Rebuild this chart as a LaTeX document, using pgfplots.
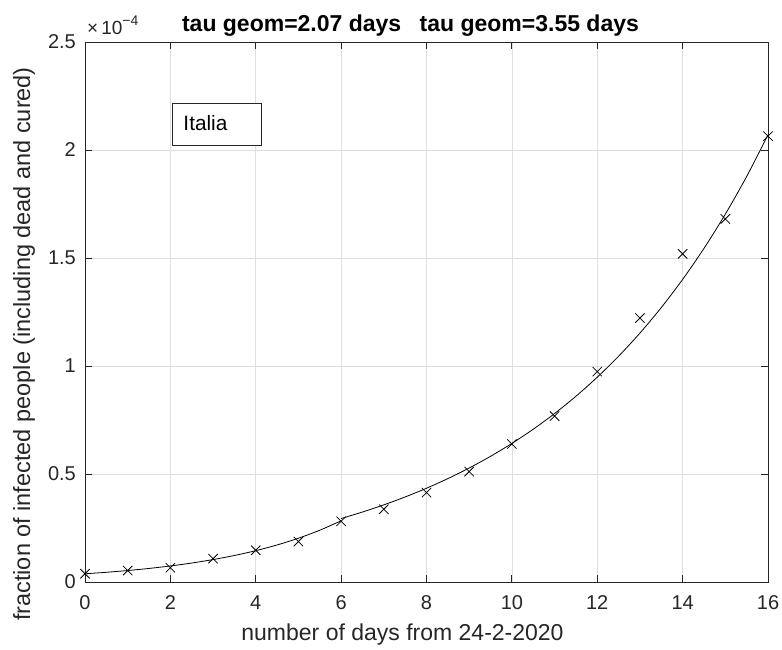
\documentclass[border=0pt]{standalone}
\usepackage{pgfplots}
\pgfplotsset{compat=1.18}
\usepackage{fontspec}
\setmainfont{Liberation Sans}
\definecolor{axgray}{RGB}{38,38,38}
\definecolor{gridgray}{RGB}{223,223,223}
\begin{document}
\begin{tikzpicture}
\useasboundingbox (-85pt,-68pt) rectangle (697pt,582pt);
\begin{axis}[
  scale only axis, width=683pt, height=540pt,
  xmin=0, xmax=16, ymin=0, ymax=2.5,
  xtick={0,2,4,6,8,10,12,14,16},
  ytick={0,0.5,1,1.5,2,2.5},
  yticklabels={0,0.5,1,1.5,2,2.5},
  tick align=inside, xtick pos=both, ytick pos=both,
  major tick length=7pt,
  grid=major, major grid style={gridgray, line width=0.6pt},
  axis line style={axgray, line width=0.8pt},
  tick style={axgray, line width=0.8pt},
  /pgf/number format/assume math mode=true,
  ticklabel style={font=\fontsize{20}{24}\selectfont, text=axgray},
  yticklabel style={anchor=east, xshift=-5.6pt},
  xticklabel style={anchor=north, yshift=-10pt},
  xlabel={number of days from 24-2-2020},
  ylabel={fraction of infected people (including dead and cured)},
  xlabel style={font=\fontsize{23}{27}\selectfont, text=axgray, at={(axis description cs:0.5,0)}, anchor=base, yshift=-58.7pt, xshift=-24pt},
  ylabel style={font=\fontsize{23.5}{27}\selectfont, text=axgray, at={(axis description cs:-0.0805,0.4407)}, anchor=base, rotate=0},
  title={tau geom=2.07 days\hspace{0.8em}tau geom=3.55 days},
  title style={font=\bfseries\fontsize{23}{27}\selectfont, at={(axis description cs:0.5,1)}, anchor=base, yshift=4.3pt, xshift=-16pt},
  clip=false,
]
% data (fraction of infected, in units of 1e-4)
\addplot[only marks, mark=x, mark size=6.6pt, black, line width=0.8pt] coordinates {
(0,0.038) (1,0.053) (2,0.066) (3,0.108) (4,0.147) (5,0.187) (6,0.281)
(7,0.337) (8,0.414) (9,0.511) (10,0.639) (11,0.768) (12,0.974)
(13,1.222) (14,1.519) (15,1.681) (16,2.064)
};
% fit 1: days 0-6
\addplot[black, line width=0.8pt, smooth] coordinates {
(0,0.0380) (0.5,0.0449) (1,0.0531) (1.5,0.0628) (2,0.0742) (2.5,0.0878)
(3,0.1038) (3.5,0.1227) (4,0.1450) (4.5,0.1715) (5,0.2027) (5.5,0.2397) (6,0.2834)
};
% fit 2: days 6-16
\addplot[black, line width=0.8pt, smooth] coordinates {
(6,0.2937) (6.5,0.3240) (7,0.3571) (7.5,0.3937) (8,0.4341) (8.5,0.4786)
(9,0.5277) (9.5,0.5819) (10,0.6415) (10.5,0.7073) (11,0.7798) (11.5,0.8599)
(12,0.9481) (12.5,1.0452) (13,1.1524) (13.5,1.2706) (14,1.4008) (14.5,1.5444)
(15,1.7028) (15.5,1.8775) (16,2.0700)
};
\draw[axgray, line width=0.9pt, fill=white] (rel axis cs:0.1274,0.887) rectangle (rel axis cs:0.2577,0.8087);
\node[anchor=base west, inner sep=0pt, font=\fontsize{20.8}{24}\selectfont] at (rel axis cs:0.1439,0.837) {Italia};
\node[anchor=base west, text=axgray, font=\fontsize{19}{22}\selectfont, inner sep=0pt] at ([xshift=2pt,yshift=7pt]rel axis cs:0,1) {×\hspace{3pt}10\raisebox{9pt}{\fontsize{14}{16}\selectfont −4}};
\end{axis}
\end{tikzpicture}
\end{document}
